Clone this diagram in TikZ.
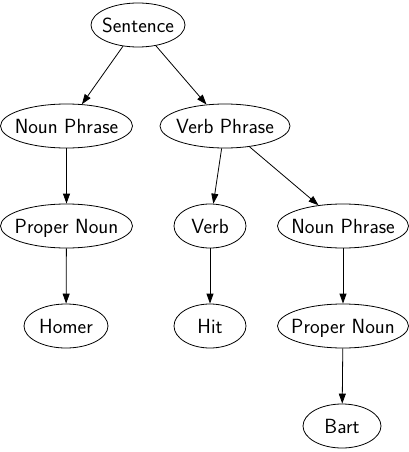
\documentclass[tikz,border=0pt]{standalone}
\usepackage{tikz}
\usetikzlibrary{arrows.meta,shapes.geometric}

\def\wordtext#1{\makebox[0pt]{#1}}

\tikzset{
	word/.style={draw, ellipse, line width=0.8pt, inner sep=0pt, minimum height=44pt, text height=14.2pt, text depth=0pt, font=\sffamily\fontsize{20.5}{24}\selectfont},
	edge/.style={line width=0.8pt, -{Triangle[length=10pt,width=7pt]}}
}

\begin{document}
\begin{tikzpicture}[x=1pt, y=-1pt]
			%%%%% START %%%%%
			
			\useasboundingbox (0, 0) rectangle (409, 452);
			
			\node[word, minimum width=94pt] (s) at (138, 25) {\wordtext{Sentence}};
			
			\node[word, minimum width=132pt] (np1) at (66.5, 126) {\wordtext{Noun Phrase}};
			\node[word, minimum width=130pt] (vp) at (225, 126) {\wordtext{Verb Phrase}};
			
			\node[word, minimum width=132pt] (pn1) at (66.5, 226) {\wordtext{Proper Noun}};
			\node[word, minimum width=72pt] (v) at (210, 226) {\wordtext{Verb}};
			\node[word, minimum width=131pt] (np2) at (343, 226) {\wordtext{Noun Phrase}};
			
			\node[word, minimum width=84pt] (homer) at (66, 326) {\wordtext{Homer}};
			\node[word, minimum width=72pt] (hit) at (210, 326) {\wordtext{Hit}};
			\node[word, minimum width=131pt] (pn2) at (343, 326) {\wordtext{Proper Noun}};
			
			\node[word, minimum width=78pt] (bart) at (342, 426) {\wordtext{Bart}};
			
			\draw[edge] (s) -- (np1);
			\draw[edge] (s) -- (vp);
			\draw[edge] (np1) -- (pn1);
			\draw[edge] (vp) -- (v);
			\draw[edge] (vp) -- (np2);
			\draw[edge] (pn1) -- (homer);
			\draw[edge] (v) -- (hit);
			\draw[edge] (np2) -- (pn2);
			\draw[edge] (pn2) -- (bart);
			
			%%%%% END %%%%%
\end{tikzpicture}
\end{document}
